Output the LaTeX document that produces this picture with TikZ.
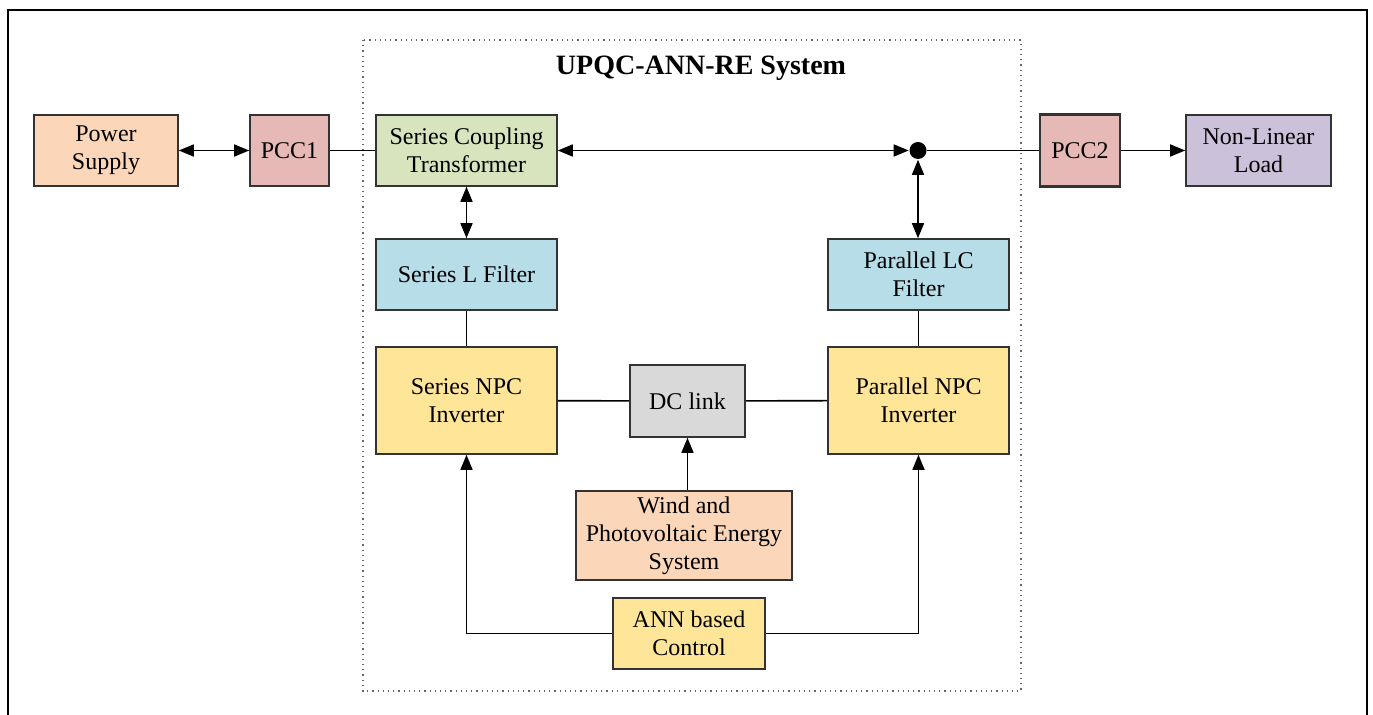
\documentclass[tikz,border=0pt]{standalone}
\usepackage{fontspec}
\setmainfont{Liberation Serif}
\usepackage{tikz}
\usetikzlibrary{positioning, arrows.meta}

\definecolor{peach}{HTML}{FBD6B8}
\definecolor{rose}{HTML}{E6B9B6}
\definecolor{sage}{HTML}{D7E4BD}
\definecolor{lilac}{HTML}{CCC1DA}
\definecolor{sky}{HTML}{B7DDE8}
\definecolor{butter}{HTML}{FEE597}
\definecolor{silver}{HTML}{D9D9D9}

\begin{document}
\begin{tikzpicture}[x=0.5pt, y=-0.5pt, line width=0.8pt,
  >={Triangle[length=7.5pt,width=6pt]},
  blk/.style={shape=rectangle, draw=black!80, line width=0.8pt, align=center,
    inner sep=1pt, font=\fontsize{12}{14}\selectfont},
  wide/.style={blk, minimum width=90.5pt, minimum height=35.5pt},
  tall/.style={blk, minimum width=90.5pt, minimum height=53.5pt}]
  \useasboundingbox (0,0) rectangle (1373,715);

  % frame and system boundary
  \draw[line width=1pt] (8,725) -- (8,10) -- (1367,10) -- (1367,725);
  \draw[dotted, black!60, line width=0.6pt] (363,40) rectangle (1021,691);
  \node[font=\bfseries\fontsize{14}{16}\selectfont] (title) at (701,68) {UPQC-ANN-RE System};

  % top row
  \node[blk, fill=peach, minimum width=72pt, minimum height=35.5pt] (supply) at (106,150.5) {Power\\Supply};
  \node[blk, fill=rose, minimum width=39.5pt, minimum height=35.5pt] (pcc1) at (289.5,150.5) {PCC1};
  \node[wide, fill=sage] (sct) at (466.5,150.5) {Series Coupling\\Transformer};
  \node[shape=circle, fill=black, inner sep=0pt, minimum size=8.5pt] (dot) at (918,150.5) {};
  \node[blk, fill=rose, line width=1.3pt, minimum width=40pt, minimum height=36pt] (pcc2) at (1080,150.5) {PCC2};
  \node[blk, fill=lilac, minimum width=72.5pt, minimum height=35.5pt] (load) at (1258.5,150.5) {Non-Linear\\Load};

  \path [<->] (supply) edge (pcc1);
  \path [-] (pcc1) edge (sct);
  \path [<->] (sct) edge (dot);
  \path [-] (dot) edge (pcc2);
  \path [->] (pcc2) edge (load);

  % filters
  \node[wide, fill=sky] (sfilt) at (466.5,274.5) {Series L Filter};
  \node[wide, fill=sky] (pfilt) at (918.5,274.5) {Parallel LC\\Filter};
  \path [<->] (sct) edge (sfilt);
  \path [<->] (dot) edge (dot |- pfilt.north);

  % inverters and dc link
  \node[tall, fill=butter] (sinv) at (466.5,400.5) {Series NPC\\Inverter};
  \node[tall, fill=butter] (pinv) at (918.5,400.5) {Parallel NPC\\Inverter};
  \node[blk, fill=silver, minimum width=57.5pt, minimum height=36pt] (dc) at (687.5,401) {DC link};
  \path [-] (sfilt) edge (sinv);
  \path [-] (pfilt) edge (pinv);
  \path [-] (sinv) edge (dc);
  \path [-] (dc) edge (pinv);

  % sources and control
  \node[blk, fill=peach, minimum width=108pt, minimum height=44.5pt] (re) at (684,535.5) {Wind and\\Photovoltaic Energy\\System};
  \node[blk, fill=butter, minimum width=76pt, minimum height=35.5pt] (ann) at (689,633.5) {ANN based\\Control};
  \draw [->] (dc |- re.north) -- (dc.south);
  \draw [->] (ann.west) -| (sinv.south);
  \draw [->] (ann.east) -| (pinv.south);

\end{tikzpicture}
\end{document}
